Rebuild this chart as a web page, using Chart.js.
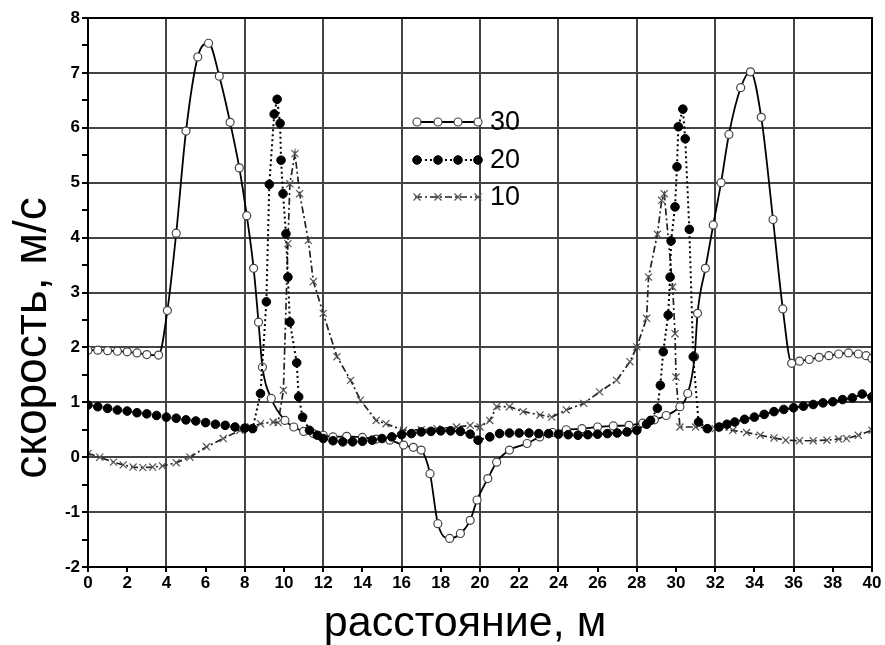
<!DOCTYPE html>
<html>
<head>
<meta charset="utf-8">
<script src="https://cdn.jsdelivr.net/npm/chart.js@4"></script>
<style>
  html, body { margin: 0; padding: 0; background: #fff; }
  #wrap { width: 885px; height: 645px; }
</style>
</head>
<body>
<div id="wrap"><canvas id="grafica" width="885" height="645"></canvas></div>
<script>
// Данные
const x30 = [0, 0.5, 1, 1.5, 2, 2.5, 3, 3.6, 4.05, 4.5, 5.0, 5.6, 6.15, 6.7, 7.25, 7.72, 8.1, 8.45, 8.7, 8.9, 9.35, 10.05, 10.5, 11.0, 11.5, 12.0, 12.5, 13.2, 14.0, 14.7, 15.4, 16.1, 16.6, 17.0, 17.45, 17.85, 18.45, 19.0, 19.5, 19.85, 20.4, 20.85, 21.5, 22.4, 23.05, 23.7, 24.4, 25.2, 26.0, 26.8, 27.6, 28.3, 28.9, 29.5, 30.2, 30.6, 30.95, 31.1, 31.5, 31.9, 32.3, 32.7, 33.3, 33.8, 34.35, 34.95, 35.45, 35.9, 36.3, 36.8, 37.3, 37.8, 38.3, 38.8, 39.3, 39.7, 40];
const v30 = [1.95, 1.95, 1.94, 1.93, 1.92, 1.9, 1.87, 1.86, 2.67, 4.08, 5.94, 7.29, 7.54, 6.94, 6.1, 5.27, 4.4, 3.44, 2.46, 1.64, 1.07, 0.67, 0.55, 0.47, 0.43, 0.4, 0.37, 0.38, 0.36, 0.33, 0.31, 0.22, 0.18, 0.13, -0.3, -1.21, -1.48, -1.39, -1.15, -0.78, -0.39, -0.09, 0.13, 0.25, 0.37, 0.45, 0.5, 0.52, 0.55, 0.57, 0.58, 0.62, 0.68, 0.76, 0.92, 1.16, 1.83, 2.62, 3.44, 4.23, 5.0, 5.88, 6.73, 7.02, 6.19, 4.33, 2.7, 1.71, 1.75, 1.78, 1.82, 1.85, 1.88, 1.9, 1.88, 1.85, 1.8];

const x20 = [0, 0.5, 1, 1.5, 2, 2.5, 3, 3.5, 4, 4.5, 5, 5.5, 6, 6.5, 7, 7.5, 8, 8.4, 8.8, 9.1, 9.25, 9.5, 9.65, 9.8, 9.85, 9.95, 10.1, 10.2, 10.3, 10.65, 10.75, 10.95, 11.3, 11.7, 12.0, 12.5, 13.0, 13.5, 14.0, 14.5, 15.0, 15.5, 16.0, 16.5, 17.0, 17.5, 18.0, 18.5, 19.0, 19.5, 19.9, 20.5, 21.0, 21.5, 22.0, 22.5, 23.0, 23.5, 24.0, 24.5, 25.0, 25.5, 26.0, 26.5, 27.0, 27.5, 28.0, 28.5, 28.7, 29.05, 29.2, 29.35, 29.6, 29.7, 29.75, 29.95, 30.05, 30.12, 30.35, 30.47, 30.68, 30.88, 31.15, 31.6, 32.2, 32.6, 33.0, 33.5, 34.0, 34.5, 35.0, 35.5, 36.0, 36.5, 37.0, 37.5, 38.0, 38.5, 39.0, 39.5, 40];
const v20 = [0.95, 0.92, 0.89, 0.86, 0.84, 0.81, 0.79, 0.76, 0.73, 0.71, 0.68, 0.66, 0.63, 0.6, 0.58, 0.55, 0.53, 0.52, 1.16, 2.83, 4.97, 6.25, 6.52, 6.08, 5.41, 4.8, 4.07, 3.28, 2.46, 1.72, 1.1, 0.73, 0.49, 0.4, 0.34, 0.3, 0.28, 0.28, 0.29, 0.31, 0.34, 0.37, 0.41, 0.43, 0.46, 0.47, 0.48, 0.48, 0.47, 0.42, 0.31, 0.37, 0.43, 0.44, 0.44, 0.44, 0.43, 0.43, 0.42, 0.41, 0.4, 0.41, 0.42, 0.43, 0.44, 0.46, 0.49, 0.6, 0.67, 0.89, 1.31, 1.92, 2.59, 3.28, 3.94, 4.56, 5.29, 6.02, 6.34, 5.8, 4.15, 1.83, 0.64, 0.52, 0.55, 0.6, 0.64, 0.69, 0.73, 0.78, 0.83, 0.87, 0.9, 0.93, 0.96, 0.99, 1.01, 1.05, 1.08, 1.15, 1.1];

const x10 = [0, 0.6, 1.3, 1.8, 2.3, 2.8, 3.3, 3.8, 4.5, 5.2, 6.05, 6.9, 7.75, 8.3, 8.8, 9.45, 9.7, 9.97, 10.2, 10.3, 10.56, 10.8, 11.24, 11.5, 12.0, 12.7, 13.4, 13.9, 14.7, 15.2, 16.1, 17.0, 17.8, 18.8, 19.5, 20.0, 20.5, 20.85, 21.5, 22.2, 23.06, 23.66, 24.4, 25.3, 26.1, 26.97, 27.65, 28.0, 28.5, 28.6, 29.05, 29.27, 29.4, 29.83, 29.95, 30.0, 30.2, 31.0, 32.0, 32.9, 33.6, 34.3, 35.0, 35.6, 36.3, 37.0, 37.7, 38.3, 38.7, 39.3, 40];
const v10 = [0.07, 0.0, -0.09, -0.14, -0.18, -0.19, -0.18, -0.16, -0.1, 0.0, 0.19, 0.34, 0.49, 0.55, 0.61, 0.64, 0.63, 1.22, 3.89, 4.98, 5.53, 4.8, 3.95, 3.2, 2.62, 1.83, 1.4, 1.04, 0.67, 0.61, 0.49, 0.5, 0.52, 0.55, 0.58, 0.55, 0.67, 0.92, 0.92, 0.83, 0.77, 0.73, 0.86, 0.98, 1.19, 1.4, 1.74, 2.01, 2.53, 3.28, 4.06, 4.68, 4.8, 3.1, 2.25, 1.46, 0.55, 0.55, 0.52, 0.49, 0.45, 0.4, 0.35, 0.31, 0.3, 0.3, 0.31, 0.33, 0.34, 0.4, 0.49];

const nombres = ["30", "20", "10"];
const tituloX = "расстояние, м";
const tituloY = "скорость, м/с";
const fuente = "'Liberation Sans', Arial, sans-serif";

function puntos(xs, ys) {
    return xs.map((x, i) => ({ x: x, y: ys[i] }));
}

// Marco, leyenda dentro del gráfico y títulos de ejes
const extras = {
    id: "extras",
    afterDraw(chart) {
        const ctx = chart.ctx;
        const area = chart.chartArea;
        ctx.save();

        // marco
        ctx.strokeStyle = "#000";
        ctx.lineWidth = 2;
        ctx.setLineDash([]);
        ctx.strokeRect(area.left, area.top, area.right - area.left, area.bottom - area.top);

        // leyenda: línea + 4 marcadores + etiqueta
        const filas = [122, 160, 197];
        chart.data.datasets.forEach((ds, i) => {
            const y = filas[i];
            ctx.strokeStyle = ds.borderColor;
            ctx.lineWidth = ds.borderWidth;
            ctx.setLineDash(ds.borderDash || []);
            ctx.beginPath();
            ctx.moveTo(415, y);
            ctx.lineTo(480, y);
            ctx.stroke();

            ctx.setLineDash([]);
            ctx.fillStyle = ds.pointBackgroundColor;
            ctx.strokeStyle = ds.pointBorderColor;
            ctx.lineWidth = ds.pointBorderWidth;
            [417, 438, 458, 478].forEach(px => {
                Chart.helpers.drawPoint(ctx, {
                    pointStyle: ds.pointStyle,
                    radius: ds.pointRadius,
                    borderWidth: ds.pointBorderWidth
                }, px, y);
            });

            ctx.fillStyle = "#000";
            ctx.font = "27px " + fuente;
            ctx.textBaseline = "middle";
            ctx.textAlign = "left";
            ctx.fillText(ds.label, 490, y + 1);
        });

        // títulos
        ctx.fillStyle = "#000";
        ctx.font = "43px " + fuente;
        ctx.textAlign = "center";
        ctx.textBaseline = "alphabetic";
        ctx.fillText(tituloX, 465, 636);

        ctx.font = "46px " + fuente;
        ctx.translate(46, 338);
        ctx.rotate(-Math.PI / 2);
        ctx.fillText(tituloY, 0, 0);
        ctx.restore();
    }
};

const ctx = document.getElementById("grafica").getContext("2d");
new Chart(ctx, {
    type: "line",
    data: {
        datasets: [
            {
                label: nombres[0],
                data: puntos(x30, v30),
                borderColor: "#000",
                borderWidth: 1.8,
                cubicInterpolationMode: "monotone",
                pointStyle: "circle",
                pointRadius: 4,
                pointBorderWidth: 1.2,
                pointBackgroundColor: "#fff",
                pointBorderColor: "#444",
                order: 2
            },
            {
                label: nombres[1],
                data: puntos(x20, v20),
                borderColor: "#000",
                borderWidth: 2,
                borderDash: [2, 3],
                pointStyle: "circle",
                pointRadius: 4.3,
                pointBorderWidth: 1,
                pointBackgroundColor: "#000",
                pointBorderColor: "#000",
                order: 1
            },
            {
                label: nombres[2],
                data: puntos(x10, v10),
                borderColor: "#222",
                borderWidth: 1.7,
                borderDash: [7, 3, 2, 3],
                pointStyle: "crossRot",
                pointRadius: 5,
                pointBorderWidth: 1.2,
                pointBackgroundColor: "#555",
                pointBorderColor: "#555",
                order: 3
            }
        ]
    },
    options: {
        responsive: false,
        animation: false,
        layout: { padding: { top: 18, right: 13, left: 0, bottom: 0 } },
        plugins: {
            legend: { display: false },
            tooltip: { enabled: false }
        },
        scales: {
            x: {
                type: "linear",
                min: 0,
                max: 40,
                afterFit: scale => { scale.height = 78; },
                border: { color: "#000", width: 2 },
                grid: {
                    color: c => (c.tick && c.tick.value % 4 === 0) ? "#444" : "rgba(0,0,0,0)",
                    lineWidth: 2,
                    tickColor: "#000",
                    tickLength: 5
                },
                ticks: {
                    stepSize: 2,
                    color: "#000",
                    padding: 1,
                    maxRotation: 0,
                    font: { family: fuente, size: 17, weight: "bold" }
                }
            },
            y: {
                min: -2,
                max: 8,
                afterFit: scale => { scale.width = 88; },
                border: { color: "#000", width: 2 },
                grid: {
                    color: c => (c.tick && Number.isInteger(c.tick.value)) ? "#444" : "rgba(0,0,0,0)",
                    lineWidth: 2,
                    tickColor: "#000",
                    tickLength: 6
                },
                ticks: {
                    stepSize: 0.5,
                    color: "#000",
                    padding: 2,
                    autoSkip: false,
                    font: { family: fuente, size: 17, weight: "bold" },
                    callback: v => Number.isInteger(v) ? String(v) : ""
                }
            }
        }
    },
    plugins: [extras]
});
</script>
</body>
</html>
